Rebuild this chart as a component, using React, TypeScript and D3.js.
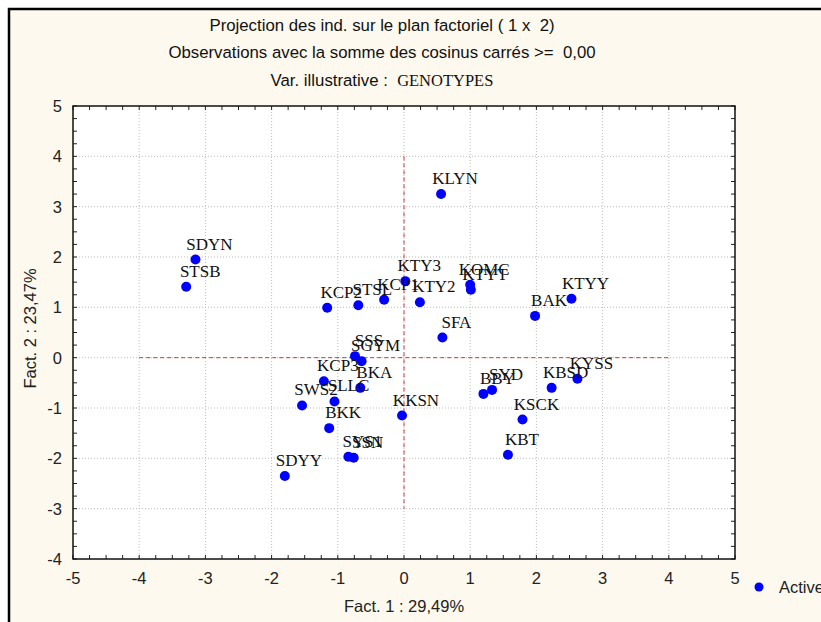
import React from 'react';
import * as d3 from 'd3';

// individuals projected on factor plane 1 x 2
const names = ['SDYN', 'STSB', 'KCP2', 'STSL', 'KCP1', 'KTY3', 'KTY2', 'SFA', 'SSS', 'SGYM',
  'KLYN', 'KOMC', 'KTYT', 'BAK', 'KTYY', 'KCP3', 'BKA', 'SLLC', 'SWS2', 'BKK',
  'KKSN', 'SYS1', 'SSN', 'SDYY', 'BBY', 'SYD', 'KBSD', 'KYSS', 'KSCK', 'KBT'];
const fact1 = [-3.15, -3.29, -1.16, -0.69, -0.30, 0.02, 0.24, 0.58, -0.74, -0.64,
  0.56, 1.00, 1.01, 1.98, 2.53, -1.21, -0.66, -1.05, -1.54, -1.13,
  -0.03, -0.84, -0.76, -1.80, 1.20, 1.33, 2.23, 2.62, 1.79, 1.57];
const fact2 = [1.95, 1.41, 0.99, 1.04, 1.15, 1.52, 1.10, 0.40, 0.03, -0.07,
  3.25, 1.45, 1.35, 0.83, 1.17, -0.47, -0.60, -0.87, -0.95, -1.40,
  -1.15, -1.97, -1.99, -2.35, -0.72, -0.64, -0.60, -0.42, -1.23, -1.93];

const xTicks = [-5, -4, -3, -2, -1, 0, 1, 2, 3, 4, 5];
const yTicks = [-4, -3, -2, -1, 0, 1, 2, 3, 4, 5];

const W = 821;
const H = 622;
const sans = '"Liberation Sans", Arial, sans-serif';
const serif = '"Liberation Serif", "Times New Roman", serif';
const nb = '\u00a0';

export default function App() {
  const x = d3.scaleLinear().domain([-5, 5]).range([73, 735]);
  const y = d3.scaleLinear().domain([-4, 5]).range([559, 106]);
  const [x0, x1] = x.range();
  const [y0, y1] = y.range();

  const minorX = d3.range(-5, 5.001, 0.25);
  const minorY = d3.range(-4, 5.001, 0.25);
  const tl = 4;

  return (
    <div style={{ position: 'absolute', left: 0, top: 0 }}>
      <svg width={W} height={H} style={{ display: 'block' }}>
        <rect x={0} y={0} width={W} height={H} fill="#fff" />
        <rect x={9} y={9} width={W} height={H} fill="#fdf9ee" stroke="#000" strokeWidth={2.5} />

        {/* titles */}
        <g fontFamily={sans} fontSize={16.8} fill="#111" textAnchor="middle">
          <text x={382} y={31}>{`Projection des ind. sur le plan factoriel ( 1 x ${nb}2)`}</text>
          <text x={382} y={58}>{`Observations avec la somme des cosinus carrés >= ${nb}0,00`}</text>
          <text x={382} y={86}>
            {`Var. illustrative : ${nb}`}
            <tspan fontFamily={serif} fontSize={16.5}>GENOTYPES</tspan>
          </text>
        </g>

        {/* plot area */}
        <rect x={x0} y={y1} width={x1 - x0} height={y0 - y1} fill="#fff" />

        {/* grid */}
        <g stroke="#bdbdbd" strokeWidth={1} strokeDasharray="1,2">
          {xTicks.slice(1, -1).map((t) => (
            <line key={'gx' + t} x1={x(t)} x2={x(t)} y1={y1} y2={y0} />
          ))}
          {yTicks.slice(1, -1).map((t) => (
            <line key={'gy' + t} x1={x0} x2={x1} y1={y(t)} y2={y(t)} />
          ))}
        </g>

        {/* red dashed reference lines */}
        <g stroke="#d23b3b" strokeWidth={1} strokeDasharray="4,3">
          <line x1={x(0)} x2={x(0)} y1={y(4)} y2={y(-3)} />
          <line x1={x(-4)} x2={x(4)} y1={y(0)} y2={y(0)} />
        </g>

        {/* ticks */}
        <g stroke="#222" strokeWidth={1}>
          {minorX.map((t) => (
            <g key={'tx' + t}>
              <line x1={x(t)} x2={x(t)} y1={y0} y2={y0 - tl} />
              <line x1={x(t)} x2={x(t)} y1={y1} y2={y1 + tl} />
            </g>
          ))}
          {minorY.map((t) => (
            <g key={'ty' + t}>
              <line x1={x0} x2={x0 + tl} y1={y(t)} y2={y(t)} />
              <line x1={x1} x2={x1 - tl} y1={y(t)} y2={y(t)} />
            </g>
          ))}
        </g>
        <rect x={x0} y={y1} width={x1 - x0} height={y0 - y1} fill="none" stroke="#111" strokeWidth={1.5} />

        {/* tick labels */}
        <g fontFamily={sans} fontSize={16.5} fill="#222">
          {xTicks.map((t) => (
            <text key={'lx' + t} x={x(t)} y={y0 + 25} textAnchor="middle">{t}</text>
          ))}
          {yTicks.map((t) => (
            <text key={'ly' + t} x={x0 - 11} y={y(t) + 6} textAnchor="end">{t}</text>
          ))}
        </g>

        {/* axis titles */}
        <g fontFamily={sans} fontSize={16.5} fill="#222" textAnchor="middle">
          <text x={(x0 + x1) / 2} y={612}>Fact. 1 : 29,49%</text>
          <text transform={`translate(36,${(y0 + y1) / 2 - 4}) rotate(-90)`}>Fact. 2 : 23,47%</text>
        </g>

        {/* points */}
        <g>
          {names.map((n, i) => (
            <circle key={'p' + n} cx={x(fact1[i])} cy={y(fact2[i])} r={5} fill="#0000ff" />
          ))}
        </g>
        <g fontFamily={serif} fontSize={17} fill="#111" textAnchor="middle">
          {names.map((n, i) => (
            <text key={'t' + n} x={x(fact1[i]) + 14} y={y(fact2[i]) - 10}>{n}</text>
          ))}
        </g>

        {/* legend */}
        <circle cx={759} cy={587} r={4.5} fill="#0000ff" />
        <text x={779} y={593} fontFamily={sans} fontSize={16.5} fill="#222">Active</text>
      </svg>
    </div>
  );
}
